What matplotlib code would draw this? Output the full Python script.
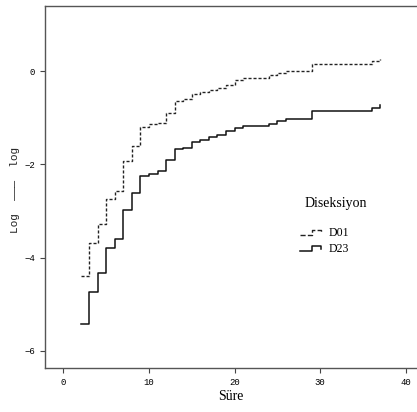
import matplotlib
matplotlib.use('Agg')
import matplotlib.pyplot as plt
from matplotlib.lines import Line2D
from matplotlib.legend_handler import HandlerBase

# event times (months) and log(-log S) for both dissection groups
times = [2.1, 3, 4, 5, 6, 7, 8, 9, 10, 11, 12, 13, 14, 15, 16, 17, 18, 19, 20, 21,
         24, 25, 26, 29, 36, 37]
d01 = [-4.39, -3.69, -3.28, -2.75, -2.58, -1.93, -1.60, -1.19, -1.14, -1.11, -0.89,
       -0.64, -0.60, -0.50, -0.46, -0.41, -0.37, -0.29, -0.19, -0.15, -0.08, -0.04,
       0.00, 0.15, 0.22, 0.26]
d23 = [-5.43, -4.75, -4.33, -3.80, -3.60, -2.98, -2.62, -2.25, -2.20, -2.14, -1.91,
       -1.68, -1.65, -1.52, -1.47, -1.42, -1.38, -1.29, -1.22, -1.17, -1.13, -1.07,
       -1.03, -0.86, -0.80, -0.73]
group_labels = ['D01', 'D23']
xticks = [0, 10, 20, 30, 40]
yticks = [-6, -4, -2, 0]

serif = ['Liberation Serif', 'DejaVu Serif']
mono = ['Liberation Mono', 'DejaVu Sans Mono']
dash = (0, (2.2, 1.4))


class StepHandler(HandlerBase):
    # small stair-step glyph for the legend keys
    def create_artists(self, legend, orig_handle, xdescent, ydescent,
                       width, height, fontsize, trans):
        x0, x1 = -xdescent, -xdescent + width
        xm = x0 + width * 0.55
        ylo, yhi = -ydescent + height * 0.15, -ydescent + height * 0.75
        line = Line2D([x0, xm, xm, x1 - width * 0.08, x1 - width * 0.08],
                      [ylo, ylo, yhi, yhi, ylo + height * 0.25],
                      color=orig_handle.get_color(),
                      linestyle=orig_handle.get_linestyle(),
                      linewidth=orig_handle.get_linewidth(), transform=trans)
        return [line]


fig = plt.figure(figsize=(4.17, 4.12), dpi=100)
ax = fig.add_axes([45 / 417, 1 - 368 / 412, 1 - 45 / 417, (368 - 6) / 412])

l1, = ax.step(times, d01, where='post', color='#222222', linewidth=1.0, linestyle=dash)
l2, = ax.step(times, d23, where='post', color='#111111', linewidth=1.1)

ax.set_xlim(-2.14, 41.3)
ax.set_ylim(-6.37, 1.395)
ax.set_xticks(xticks)
ax.set_yticks(yticks)
for lab in ax.get_xticklabels() + ax.get_yticklabels():
    lab.set_family(mono)
    lab.set_fontsize(6.5)
ax.tick_params(direction='out', length=3.5, width=0.8, color='#444444', pad=3.5)

for side in ['left', 'bottom', 'top']:
    ax.spines[side].set_color('#555555')
    ax.spines[side].set_linewidth(1.0)
ax.spines['right'].set_visible(False)

ax.set_xlabel('Süre', family=serif, fontsize=10, labelpad=2)
# y axis title: log(-log) written with a rule between the two words
fig.text(15.5 / 417, 1 - 190 / 412, 'Log  \u2014\u2014\u2014  log', family=mono,
         fontsize=8, rotation=90, ha='center', va='center', color='#222222')

fig.text(305 / 417, 1 - 204 / 412, 'Diseksiyon', family=serif, fontsize=10,
         va='center', ha='left')
ax.legend([l1, l2], group_labels, handler_map={Line2D: StepHandler()},
          loc='upper left', bbox_to_anchor=(300 / 417, 1 - 227 / 412),
          bbox_transform=fig.transFigure, frameon=False, borderpad=0,
          borderaxespad=0, handlelength=1.9, handletextpad=0.5,
          labelspacing=0.35, prop={'family': serif, 'size': 8.5})

fig.savefig('out.png', dpi=100)
